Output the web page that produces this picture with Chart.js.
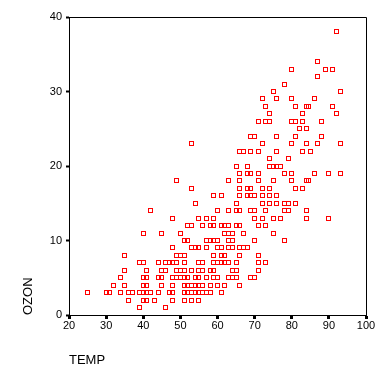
<!DOCTYPE html>
<html><head><meta charset="utf-8">
<script src="https://cdn.jsdelivr.net/npm/chart.js@4.4.0/dist/chart.umd.min.js"></script>
<style>html,body{margin:0;padding:0;background:#fff;} #wrap{width:387px;height:379px;position:relative;}</style>
</head><body><div id="wrap"><canvas id="c" width="387" height="379"></canvas></div>
<script>
// Series values (TEMP on x, OZON on y)
const temp = [
  92,
  87,
  80,89,91,
  87,
  78,
  75,93,
  72,76,80,86,
  73,81,84,84.4,91,
  74,83,92,
  71,73,74,80,81,83,88,
  82,84,
  69,70,76,81,88,
  53,72,80,84,87,93,
  66,67,69,71,76,83,85,
  74,79,
  65,68,74,75,76,77,
  66,68,69,71,78,80,86,90,93,
  49,63,66,71,75,80,84,84.4,
  53,66,68,69,72,74,81,83,
  59,61,66,68,69,70,72,74,76,
  54,65,72,74,76,78,79,81,
  42,60,63,65,66,69,70,73,78,79,84,
  48,55,57,59,70,72,75,77,84,90,
  52,53,56,58,59,61,62,63,65,66,71,73,
  40,45,50,62,63,64,67,75,
  51,52,57,58,59,60,63,64,70,78,
  48,53,54,55,57,60,61,63,64,66,67,68,
  35,49,50,51,59,61,62,66,71,
  39,40,44,46,47,48,49,51,55,56,59,60,61,62,63,65,71,73,
  35,41,45,46,49,50,51,53,55,56,58,59,64,65,71,
  34,40,41,44,45,48,49,50,51,52,54,55,57,59,60,63,64,65,69,70,
  32,35,40,41,45,48,51,52,53,54,55,56,58,60,62,66,
  25,30,31,34,36,37,39,40,41,42,44,47,48,51,52,53,54,55,56,57,58,61,
  36,40,41,43,48,51,53,55,
  39,46
];
const ozone = [
  38,
  34,
  33,33,33,
  32,
  31,
  30,30,
  29,29,29,29,
  28,28,28,28,28,
  27,27,27,
  26,26,26,26,26,26,26,
  25,25,
  24,24,24,24,24,
  23,23,23,23,23,23,
  22,22,22,22,22,22,22,
  21,21,
  20,20,20,20,20,20,
  19,19,19,19,19,19,19,19,19,
  18,18,18,18,18,18,18,18,
  17,17,17,17,17,17,17,17,
  16,16,16,16,16,16,16,16,16,
  15,15,15,15,15,15,15,15,
  14,14,14,14,14,14,14,14,14,14,14,
  13,13,13,13,13,13,13,13,13,13,
  12,12,12,12,12,12,12,12,12,12,12,12,
  11,11,11,11,11,11,11,11,
  10,10,10,10,10,10,10,10,10,10,
  9,9,9,9,9,9,9,9,9,9,9,9,
  8,8,8,8,8,8,8,8,8,
  7,7,7,7,7,7,7,7,7,7,7,7,7,7,7,7,7,7,
  6,6,6,6,6,6,6,6,6,6,6,6,6,6,6,
  5,5,5,5,5,5,5,5,5,5,5,5,5,5,5,5,5,5,5,5,
  4,4,4,4,4,4,4,4,4,4,4,4,4,4,4,4,
  3,3,3,3,3,3,3,3,3,3,3,3,3,3,3,3,3,3,3,3,3,3,
  2,2,2,2,2,2,2,2,
  1,1
];
const xTicks = [20,30,40,50,60,70,80,90,100];
const yTicks = [0,10,20,30,40];
const xTitle = 'TEMP';
const yTitle = 'OZON';

const FONT = 'Arial, "Liberation Sans", sans-serif';

// hollow square marker (drawn by Chart.js as the point style)
const marker = document.createElement('canvas');
marker.width = 5; marker.height = 5;
(function () {
  const m = marker.getContext('2d');
  m.strokeStyle = '#ff0000';
  m.lineWidth = 1;
  m.strokeRect(0.5, 0.5, 4, 4);
})();

const crispPlugin = {
  id: 'crisp',
  beforeDatasetsDraw(chart) { chart.ctx.imageSmoothingEnabled = false; },
  afterDatasetsDraw(chart) { chart.ctx.imageSmoothingEnabled = true; }
};

const framePlugin = {
  id: 'frame',
  afterDraw(chart) {
    const {ctx, chartArea: a} = chart;
    ctx.save();
    ctx.strokeStyle = '#000';
    ctx.lineWidth = 1;
    const t = Math.round(a.top) + 0.5;
    const r = Math.round(a.right) + 0.5;
    ctx.beginPath();
    ctx.moveTo(Math.round(a.left), t);
    ctx.lineTo(r, t);
    ctx.lineTo(r, Math.round(a.bottom) + 1);
    ctx.stroke();
    ctx.restore();
  }
};

new Chart(document.getElementById('c'), {
  type: 'scatter',
  data: {
    datasets: [{
      data: temp.map((t, i) => ({x: t, y: ozone[i]})),
      pointStyle: marker,
      pointRadius: 3,
      pointHoverRadius: 3,
      borderColor: '#ff0000',
      backgroundColor: 'rgba(0,0,0,0)',
      borderWidth: 1
    }]
  },
  options: {
    responsive: false,
    devicePixelRatio: 1,
    animation: false,
    events: [],
    layout: {padding: {left: 0, top: 17, right: 21, bottom: 0}},
    plugins: {legend: {display: false}, tooltip: {enabled: false}},
    scales: {
      x: {
        type: 'linear',
        position: 'bottom',
        min: xTicks[0],
        max: xTicks[xTicks.length - 1],
        afterBuildTicks: s => { s.ticks = xTicks.map(v => ({value: v})); },
        afterFit: s => { s.height = 64; },
        grid: {drawOnChartArea: false, drawTicks: true, tickLength: 4, tickWidth: 3, tickColor: '#000'},
        border: {display: true, color: '#000', width: 1},
        ticks: {color: '#000', font: {family: FONT, size: 11}, padding: 0, maxRotation: 0, autoSkip: false},
        title: {display: true, text: xTitle, align: 'start', color: '#000', font: {family: FONT, size: 13}, padding: {top: 0, bottom: 11}}
      },
      y: {
        type: 'linear',
        position: 'left',
        min: yTicks[0],
        max: yTicks[yTicks.length - 1],
        afterBuildTicks: s => { s.ticks = yTicks.map(v => ({value: v})); },
        afterFit: s => { s.width = 69; },
        grid: {drawOnChartArea: false, drawTicks: true, tickLength: 3, tickWidth: 2, tickColor: '#000'},
        border: {display: true, color: '#000', width: 1},
        ticks: {color: '#000', font: {family: FONT, size: 11}, padding: 4, autoSkip: false},
        title: {display: true, text: yTitle, align: 'start', color: '#000', font: {family: FONT, size: 13}, padding: {top: 21, bottom: 0}}
      }
    }
  },
  plugins: [crispPlugin, framePlugin]
});
</script>
</body></html>
